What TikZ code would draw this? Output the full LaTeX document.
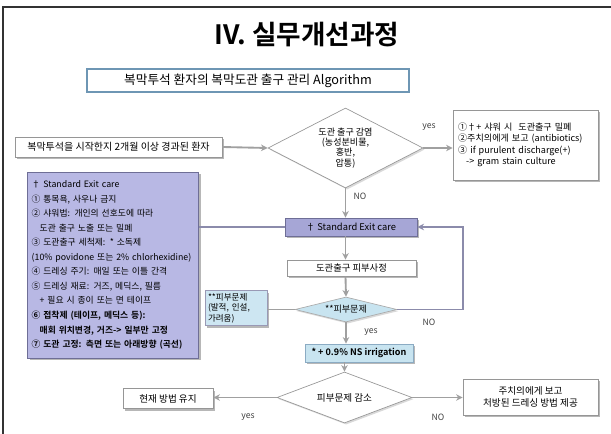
\documentclass[tikz,border=0pt]{standalone}
\usepackage{fontspec}
\setmainfont{Noto Sans CJK KR}[BoldFont={Noto Sans CJK KR Bold}]
\usetikzlibrary{shapes.geometric,arrows.meta,shadows}
\definecolor{arr}{RGB}{160,160,160}
\definecolor{bord}{RGB}{150,150,150}
\definecolor{purp}{RGB}{184,184,228}
\definecolor{purpstd}{RGB}{166,166,214}
\definecolor{purpd}{RGB}{110,110,150}
\definecolor{lblue}{RGB}{200,228,240}
\definecolor{lbluen}{RGB}{205,230,242}
\definecolor{subb}{RGB}{110,150,180}
\tikzset{
  shad/.style={drop shadow={shadow xshift=1.8pt,shadow yshift=-1.8pt,fill=black!40,opacity=0.7}},
  lshad/.style={drop shadow={shadow xshift=1.2pt,shadow yshift=-1.2pt,fill=black!25,opacity=0.6}},
  wbox/.style={draw=bord,fill=white,line width=0.5pt,shad,inner sep=0pt,align=center},
  pbox/.style={draw=purpd,fill=purp,line width=0.6pt,shad,inner sep=0pt},
  dia/.style={diamond,draw=bord,fill=white,line width=0.5pt,inner sep=0pt,align=center,lshad},
  flow/.style={draw=arr,line width=1.4pt,-{Stealth[length=5pt,width=5pt]}},
  plain/.style={draw=purpd!80,line width=1.1pt},
  lab/.style={font=\fontsize{6.5}{7}\selectfont,text=black!75},
}
\begin{document}
\begin{tikzpicture}[x=0.75pt,y=-0.75pt]
\useasboundingbox (0,0) rectangle (611,434);
\draw[line width=1.6pt,black!80] (3,434) -- (3,7) -- (611,7);

\node[font=\bfseries\fontsize{20}{24}\selectfont] (title) at (307,35) {IV. 실무개선과정};

\node[draw=subb,line width=0.9pt,minimum width=241.5pt,minimum height=17.25pt,inner sep=0pt,
  font=\fontsize{9.5}{11}\selectfont] (sub) at (248,80.5) {복막투석 환자의 복막도관 출구 관리 Algorithm};

\node[wbox,minimum width=155.25pt,minimum height=15pt,font=\fontsize{7.5}{9}\selectfont] (start) at (118.5,147)
  {복막투석을 시작한지 2개월 이상 경과된 환자};

\node[dia,minimum width=116.25pt,minimum height=60pt,aspect=1.94,
  font=\fontsize{6.8}{7.6}\selectfont] (d1) at (345.5,148)
  {도관 출구 감염\\(농성분비물,\\홍반,\\압통)};

\node[wbox,minimum width=108.75pt,minimum height=52.5pt,text width=101pt,align=left,
  font=\fontsize{6.8}{8.6}\selectfont] (yesbox) at (525.5,145)
  {①†+ 샤워 시 \ 도관출구 밀폐\\②주치의에게 보고 (antibiotics)\\③ if purulent discharge(+)\\\hspace*{6pt}-> gram stain culture};

\node[pbox,fill=purpstd,minimum width=99pt,minimum height=13.5pt,font=\fontsize{7}{8}\selectfont] (std) at (351,227)
  {† Standard Exit care};

\node[wbox,minimum width=96.75pt,minimum height=12pt,font=\fontsize{7}{8}\selectfont] (skin) at (351.5,268)
  {도관출구 피부사정};

\node[dia,fill=lblue,draw=bord!80,minimum width=76.5pt,minimum height=18.75pt,aspect=4,
  font=\fontsize{6.8}{8}\selectfont] (d2) at (346,309.5) {**피부문제};

\node[draw=purpd!70,fill=lbluen,line width=0.5pt,shad,minimum width=46.5pt,minimum height=24pt,inner sep=2pt,
  text width=42pt,align=left,font=\fontsize{6.4}{7.8}\selectfont] (note) at (236,308)
  {**피부문제\\(발적, 인설,\\가려움)};

\node[pbox,minimum width=127.5pt,minimum height=139.5pt,text width=122pt,inner xsep=3pt,align=left,
  font=\fontsize{6.6}{10.9}\selectfont] (big) at (113,265)
  {† Standard Exit care\\
   ① 통목욕, 사우나 금지\\
   ② 샤워법: 개인의 선호도에 따라\\
   \hspace*{6pt}도관 출구 노출 또는 밀폐\\
   ③ 도관출구 세척제: * 소독제\\
   (10\% povidone 또는 2\% chlorhexidine)\\
   ④ 드레싱 주기: 매일 또는 이틀 간격\\
   ⑤ 드레싱 재료: 거즈, 메딕스, 필름\\
   \hspace*{6pt}+ 필요 시 종이 또는 면 테이프\\
   \textbf{⑥ 접착제 (테이프, 메딕스 등):}\\
   \hspace*{6pt}\textbf{매회 위치변경, 거즈-> 일부만 고정}\\
   \textbf{⑦ 도관 고정: 측면 또는 아래방향 (곡선)}};

\node[draw=subb!80,fill=lblue,line width=0.5pt,shad,minimum width=81pt,minimum height=13.5pt,inner sep=0pt,
  font=\bfseries\fontsize{6.8}{8}\selectfont] (ns) at (359,353) {* + 0.9\% NS irrigation};

\node[dia,minimum width=101.25pt,minimum height=38.25pt,aspect=2.6,
  font=\fontsize{7.2}{8}\selectfont] (d3) at (344.5,397.5) {피부문제 감소};

\node[wbox,minimum width=67.5pt,minimum height=15pt,font=\fontsize{7.2}{8}\selectfont] (keep) at (168,398.5)
  {현재 방법 유지};

\node[wbox,minimum width=101.25pt,minimum height=27pt,font=\fontsize{7.2}{9.3}\selectfont] (report) at (530.5,397)
  {주치의에게 보고\\처방된 드레싱 방법 제공};

\coordinate (fb) at (463,268);

% connectors
\draw[flow] (start.east) -- (d1.west);
\draw[flow] (d1.east) -- (yesbox.west |- d1.east);
\node[lab] (l1) at (429,127) {yes};
\draw[flow] (d1.south) -- (d1.south |- std.north);
\node[lab] (l2) at (360,196) {NO};
\draw[flow] (d1.south |- std.south) -- (d1.south |- skin.north);
\draw[flow] (d1.south |- skin.south) -- (d2.north);
\draw[flow] (d2.south) -- (d2.south |- ns.north);
\node[lab] (l3) at (371,332) {yes};
\draw[flow] (d3.north |- ns.south) -- (d3.north);
\draw[flow] (d3.west) -- (keep.east |- d3.west);
\node[lab] (l4) at (248,417) {yes};
\draw[flow] (d3.east) -- (report.west |- d3.east);
\node[lab] (l5) at (438,417) {NO};
\draw[plain,line width=1.4pt,-{Stealth[length=5pt,width=5pt]}] (d2.east) -- (d2.east -| fb) -- (fb |- std.east) -- (std.east);
\node[lab] (l6) at (429,322) {NO};
\draw[plain] (big.east |- std.west) -- (std.west);
\draw[draw=arr,line width=1pt] (note.east |- d2.west) -- (d2.west);
\end{tikzpicture}
\end{document}
